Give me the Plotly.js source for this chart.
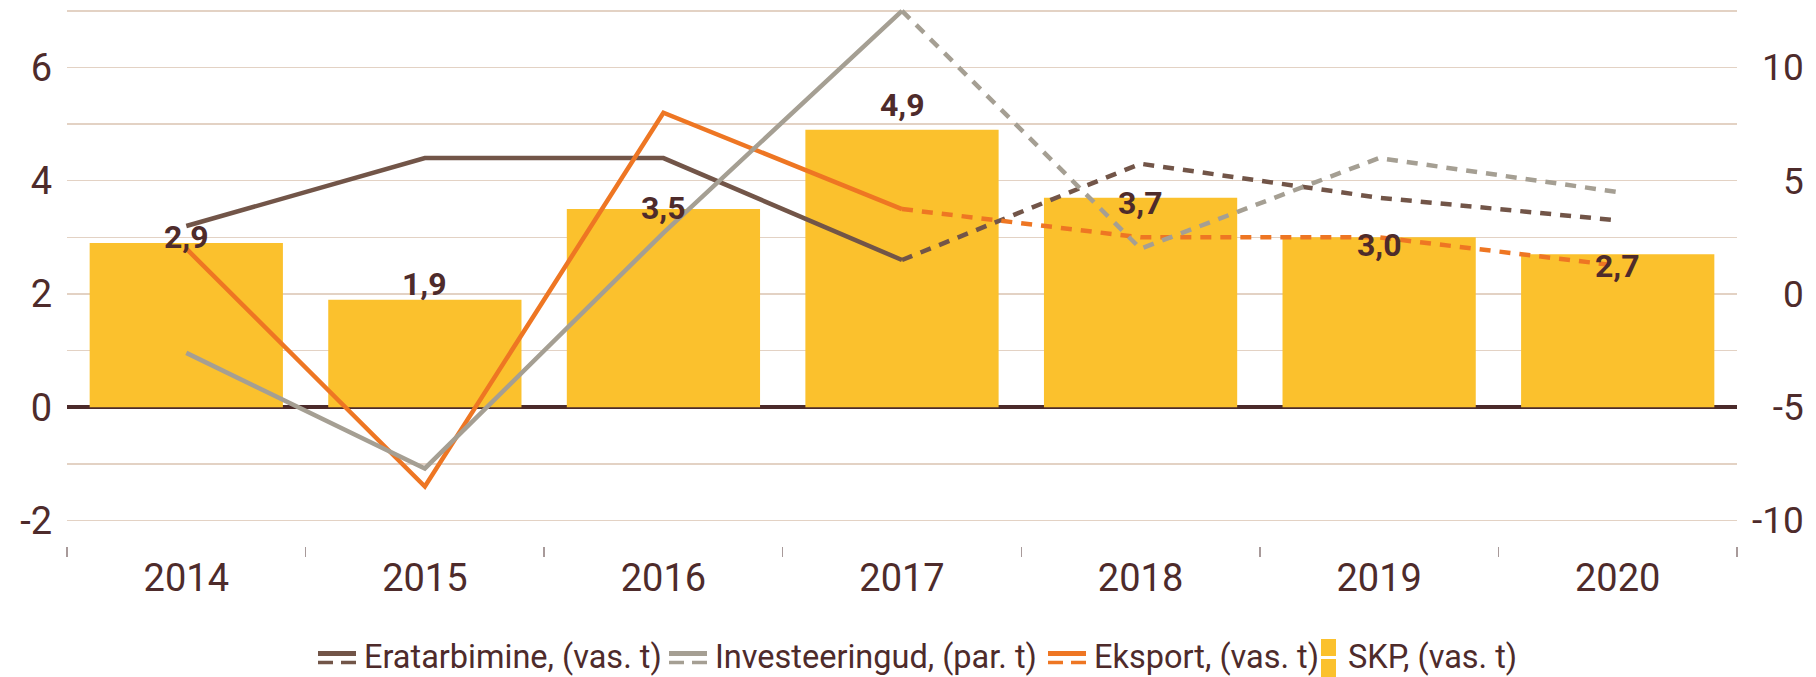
<!DOCTYPE html>
<html>
<head>
<meta charset="utf-8">
<script src="https://cdn.plot.ly/plotly-3.0.1.min.js"></script>
<style>
html,body{margin:0;padding:0;background:#fff;}
#chart{width:1816px;height:677px;}
</style>
</head>
<body>
<div id="chart"></div>
<script>
// ---- data ----
const years = ['2014','2015','2016','2017','2018','2019','2020'];
const skp = [2.9, 1.9, 3.5, 4.9, 3.7, 3.0, 2.7];
const eratarbimine = [3.2, 4.4, 4.4, 2.6, 4.3, 3.7, 3.3];
const investeeringud = [-2.6, -7.7, 2.7, 12.5, 2.0, 6.0, 4.5];
const eksport = [2.8, -1.4, 5.2, 3.5, 3.0, 3.0, 2.5];
const seriesNames = ['Eratarbimine, (vas. t)', 'Investeeringud, (par. t)', 'Eksport, (vas. t)', 'SKP, (vas. t)'];
const leftTicks = [-2, -1, 0, 1, 2, 3, 4, 5, 6, 7];
const rightTicks = [-10, -5, 0, 5, 10];

// ---- styles ----
const TXT = '#4e2b2b';
const FONT = 'Roboto, "Open Sans", sans-serif';
const C_ERA = '#725548', C_INV = '#a59f93', C_EKS = '#ee7623', C_SKP = '#fbc12d';
const GRID = '#e3d2c4';
const labelShift = [6, 16, 1, 25, -5, -8, -12];
const solidEnd = 4; // forecast (dashed) starts at index 3
const DASH = '11px,9px';
const LW = 4.5;

function solid(arr){ return arr.slice(0, solidEnd); }
function dashed(arr){ return arr.slice(solidEnd - 1); }
const ySolid = solid(years), yDash = dashed(years);

function lineTraces(vals, color, axis, name){
  return [
    {type:'scatter', mode:'lines', x:ySolid, y:solid(vals), yaxis:axis, name:name,
     line:{color:color, width:LW}, showlegend:false, hoverinfo:'skip'},
    {type:'scatter', mode:'lines', x:yDash, y:dashed(vals), yaxis:axis, name:name,
     line:{color:color, width:LW, dash:DASH}, showlegend:false, hoverinfo:'skip'}
  ];
}

const traces = [
  {type:'bar', x:years, y:skp, name:seriesNames[3], marker:{color:C_SKP}, showlegend:false, hoverinfo:'skip'},
  ...lineTraces(eratarbimine, C_ERA, 'y', seriesNames[0]),
  ...lineTraces(eksport, C_EKS, 'y', seriesNames[2]),
  ...lineTraces(investeeringud, C_INV, 'y2', seriesNames[1])
];

// axis geometry
const L = 67, R = 79, T = 8, B = 131, W = 1816, H = 677;
const PW = W - L - R, PH = H - T - B;
const leftRange = [-2.45, 7.05];
const rightRange = leftRange.map(v => 2.5 * v - 5);
const px = x => (x - L) / PW;
const py = y => (H - B - y) / PH;

// right tick labels padded so they right-align
function padRight(v){
  const s = String(v);
  if (s.length === 3) return s;
  if (s === '10') return '\u2008' + s;
  if (s.startsWith('-')) return '\u2007' + s;
  return '\u2008\u2007' + s;
}

const annotations = [];
const shapes = [];

// bar value labels (x given as category index)
years.forEach((yr, i) => {
  annotations.push({x: i, y: skp[i], xref:'x', yref:'y', text: skp[i].toFixed(1).replace('.', ','),
    showarrow:false, yshift: labelShift[i], xanchor:'center', yanchor:'middle',
    font:{family:FONT, size:32, color:TXT, weight:700}});
});

// custom legend
const legSym = [318, 669, 1048, 1321];
const legTxt = [362, 713, 1092, 1346];
const legColors = [C_ERA, C_INV, C_EKS];
for (let k = 0; k < 3; k++){
  const x0 = legSym[k], x1 = x0 + 38;
  shapes.push({type:'line', xref:'paper', yref:'paper', x0:px(x0), x1:px(x1), y0:py(653.5), y1:py(653.5),
    line:{color:legColors[k], width:5}});
  shapes.push({type:'line', xref:'paper', yref:'paper', x0:px(x0), x1:px(x0+15), y0:py(662.5), y1:py(662.5),
    line:{color:legColors[k], width:3.5}});
  shapes.push({type:'line', xref:'paper', yref:'paper', x0:px(x0+23), x1:px(x1), y0:py(662.5), y1:py(662.5),
    line:{color:legColors[k], width:3.5}});
}
shapes.push({type:'rect', xref:'paper', yref:'paper', x0:px(1321), x1:px(1336), y0:py(656), y1:py(639),
  fillcolor:C_SKP, line:{width:0}});
shapes.push({type:'rect', xref:'paper', yref:'paper', x0:px(1321), x1:px(1336), y0:py(677), y1:py(659),
  fillcolor:C_SKP, line:{width:0}});
seriesNames.forEach((nm, j) => {
  annotations.push({xref:'paper', yref:'paper', x:px(legTxt[j]), y:py(657), xanchor:'left', yanchor:'middle',
    text: nm, showarrow:false, font:{family:FONT, size:32.5, color:TXT}});
});

const layout = {
  width: W, height: H,
  margin: {l:L, r:R, t:T, b:B, pad:0},
  paper_bgcolor:'#ffffff', plot_bgcolor:'#ffffff',
  bargap: 0.19,
  showlegend:false,
  font:{family:FONT, color:TXT},
  xaxis:{type:'category', categoryorder:'array', categoryarray:years, range:[-0.5, years.length - 0.5], autorange:false,
    tickson:'boundaries', ticks:'outside', ticklen:10, tickwidth:1.5, tickcolor:'#a89a9a', tickangle:0,
    showgrid:false, showline:false, zeroline:false, tickfont:{size:38, color:TXT}, ticklabelstandoff:6,
    fixedrange:true},
  yaxis:{range:leftRange, autorange:false, tickvals:leftTicks, ticktext:leftTicks.map(v => v % 2 === 0 ? String(v) : ''),
    showgrid:true, gridcolor:GRID, gridwidth:1.5, zeroline:true, zerolinecolor:'#4b2a2a', zerolinewidth:4,
    ticks:'', tickfont:{size:38, color:TXT}, ticklabelstandoff:14, showline:false, fixedrange:true},
  yaxis2:{range:rightRange, autorange:false, overlaying:'y', side:'right', tickvals:rightTicks, ticktext:rightTicks.map(padRight),
    showgrid:false, zeroline:false, ticks:'', tickfont:{size:37, color:TXT}, ticklabelstandoff:14,
    showline:false, fixedrange:true},
  annotations: annotations,
  shapes: shapes
};

Plotly.newPlot('chart', traces, layout, {displayModeBar:false, staticPlot:true});
</script>
</body>
</html>
